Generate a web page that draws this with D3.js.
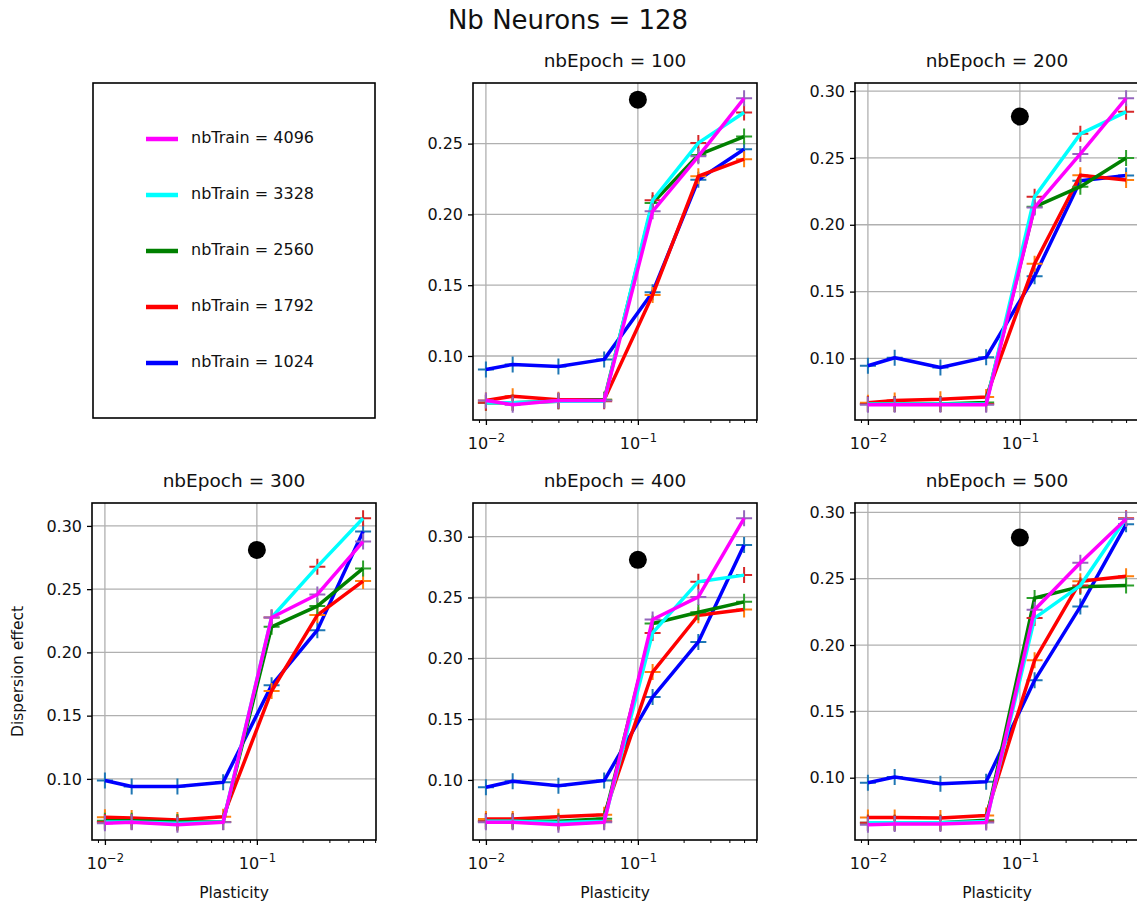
<!DOCTYPE html>
<html>
<head>
<meta charset="utf-8">
<script src="https://cdn.jsdelivr.net/npm/d3@7"></script>
<style>
  html, body { margin: 0; padding: 0; background: #fff; }
  svg { display: block; font-family: "DejaVu Sans", sans-serif; }
</style>
</head>
<body>
<svg id="chart" width="1137" height="903"></svg>
<script>
// ---- data -------------------------------------------------------------
const plasticity = [0.01, 0.015, 0.03, 0.06, 0.125, 0.25, 0.5];
const nbTrain = [1024, 1792, 2560, 3328, 4096];
const epochs = [100, 200, 300, 400, 500];

// dispersion effect, one row per nbTrain value (1024, 1792, 2560, 3328, 4096)
const dispersion100 = [
  [0.0905, 0.094, 0.0925, 0.0976, 0.145, 0.2245, 0.246],
  [0.0685, 0.0716, 0.069, 0.069, 0.143, 0.227, 0.239],
  [0.067, 0.067, 0.068, 0.069, 0.208, 0.242, 0.255],
  [0.067, 0.067, 0.068, 0.068, 0.210, 0.2505, 0.272],
  [0.0685, 0.0656, 0.0685, 0.0685, 0.2022, 0.241, 0.282]
];
const dispersion200 = [
  [0.0945, 0.1005, 0.0932, 0.1008, 0.1615, 0.233, 0.2368],
  [0.0669, 0.0686, 0.0694, 0.0711, 0.1708, 0.237, 0.2335],
  [0.066, 0.066, 0.066, 0.067, 0.2134, 0.2285, 0.250],
  [0.066, 0.066, 0.066, 0.066, 0.221, 0.268, 0.2845],
  [0.0654, 0.0654, 0.0654, 0.0654, 0.213, 0.253, 0.2946]
];
const dispersion300 = [
  [0.0987, 0.094, 0.094, 0.0974, 0.174, 0.2176, 0.2955],
  [0.0696, 0.069, 0.0675, 0.0701, 0.1695, 0.2295, 0.2564],
  [0.067, 0.067, 0.066, 0.066, 0.2202, 0.2366, 0.2664],
  [0.066, 0.066, 0.065, 0.066, 0.2276, 0.2678, 0.306],
  [0.0649, 0.0657, 0.0638, 0.0657, 0.2276, 0.2458, 0.2876]
];
const dispersion400 = [
  [0.094, 0.0989, 0.0953, 0.0995, 0.1681, 0.2135, 0.2931],
  [0.0679, 0.0679, 0.0698, 0.0714, 0.1887, 0.2354, 0.2401],
  [0.066, 0.066, 0.066, 0.068, 0.2286, 0.2379, 0.2464],
  [0.066, 0.066, 0.065, 0.066, 0.2209, 0.263, 0.2684],
  [0.0651, 0.0651, 0.0632, 0.0651, 0.2319, 0.2505, 0.3151]
];
const dispersion500 = [
  [0.0962, 0.1005, 0.0954, 0.097, 0.1734, 0.229, 0.291],
  [0.0701, 0.0701, 0.0696, 0.0716, 0.1886, 0.248, 0.2519],
  [0.066, 0.066, 0.066, 0.068, 0.2354, 0.244, 0.2448],
  [0.066, 0.066, 0.066, 0.067, 0.2203, 0.2448, 0.2955],
  [0.0646, 0.0651, 0.0651, 0.0663, 0.2266, 0.262, 0.295]
];
const dispersionByEpoch = [dispersion100, dispersion200, dispersion300, dispersion400, dispersion500];

// reference point drawn in every panel
const refPoint = { plasticity: 0.1, dispersion: 0.281 };

const yTickStep = 0.05;
const xMajorTicks = [0.01, 0.1];
const xMinorTicks = [0.009, 0.02, 0.03, 0.04, 0.05, 0.06, 0.07, 0.08, 0.09, 0.2, 0.3, 0.4, 0.5, 0.6];

// ---- styles -----------------------------------------------------------
const lineColors = ["#0000ff", "#ff0000", "#008000", "#00ffff", "#ff00ff"];
const markerColors = ["#1f77b4", "#ff7f0e", "#2ca02c", "#d62728", "#9467bd"];

// ---- layout -----------------------------------------------------------
const colLefts = [92, 473, 855];
const rowTops = [83, 503];
const axW = 284, axH = 337;

const svg = d3.select("#chart");

svg.append("text")
  .attr("x", 568).attr("y", 29)
  .attr("text-anchor", "middle")
  .attr("font-size", 26)
  .attr("fill", "#111")
  .text("Nb Neurons = 128");

// legend panel (top-left slot)
const legend = svg.append("g").attr("transform", `translate(${colLefts[0]},${rowTops[0]})`);
legend.append("rect")
  .attr("x", 1).attr("y", 0).attr("width", axW - 2).attr("height", axH - 2)
  .attr("fill", "none").attr("stroke", "#000").attr("stroke-width", 1.6);
const legendOrder = d3.range(nbTrain.length).reverse();
legendOrder.forEach((si, k) => {
  const ly = 56 + k * 56;
  legend.append("line")
    .attr("x1", 54).attr("x2", 86).attr("y1", ly).attr("y2", ly)
    .attr("stroke", lineColors[si]).attr("stroke-width", 4.5);
  legend.append("text")
    .attr("x", 99).attr("y", ly + 3.5)
    .attr("font-size", 16).attr("fill", "#111")
    .text(`nbTrain = ${nbTrain[si]}`);
});

// padded domains, 5% on each side as the plotting defaults do
const logLo = Math.log10(d3.min(plasticity)), logHi = Math.log10(d3.max(plasticity));
const logPad = (logHi - logLo) * 0.05;
const xDomain = [Math.pow(10, logLo - logPad), Math.pow(10, logHi + logPad)];

const lineGen = (x, y) => d3.line()
  .x((d, i) => x(plasticity[i]))
  .y(d => y(d));

const plusSize = 8;

epochs.forEach((ep, pi) => {
  const slot = pi + 1;
  const row = Math.floor(slot / 3), col = slot % 3;
  const left = colLefts[col], top = rowTops[row];
  const series = dispersionByEpoch[pi];

  const allVals = series.flat().concat([refPoint.dispersion]);
  const vMin = d3.min(allVals), vMax = d3.max(allVals);
  const vPad = (vMax - vMin) * 0.05;

  const x = d3.scaleLog().domain(xDomain).range([0, axW]);
  const y = d3.scaleLinear().domain([vMin - vPad, vMax + vPad]).range([axH, 0]);

  const yTicks = d3.range(Math.ceil((vMin - vPad) / yTickStep - 1e-9), Math.floor((vMax + vPad) / yTickStep + 1e-9) + 1)
    .map(k => +(k * yTickStep).toFixed(2));

  const g = svg.append("g").attr("transform", `translate(${left},${top})`);
  const clipId = `clip-${ep}`;
  g.append("clipPath").attr("id", clipId)
    .append("rect").attr("width", axW).attr("height", axH);

  // grid
  const grid = g.append("g").attr("stroke", "#b0b0b0").attr("stroke-width", 1.3);
  yTicks.forEach(t => grid.append("line")
    .attr("x1", 0).attr("x2", axW).attr("y1", y(t)).attr("y2", y(t)));
  xMajorTicks.forEach(t => grid.append("line")
    .attr("x1", x(t)).attr("x2", x(t)).attr("y1", 0).attr("y2", axH));

  // data
  const plot = g.append("g").attr("clip-path", `url(#${clipId})`);
  series.forEach((vals, si) => {
    plot.append("g").selectAll("path")
      .data(vals)
      .join("path")
      .attr("d", (d, i) => {
        const px = x(plasticity[i]), py = y(d);
        return `M${px - plusSize},${py}H${px + plusSize}M${px},${py - plusSize}V${py + plusSize}`;
      })
      .attr("stroke", markerColors[si]).attr("stroke-width", 2).attr("fill", "none");
    plot.append("path")
      .datum(vals)
      .attr("d", lineGen(x, y))
      .attr("fill", "none")
      .attr("stroke", lineColors[si])
      .attr("stroke-width", 3.5)
      .attr("stroke-linejoin", "round");
  });
  plot.append("circle")
    .attr("cx", x(refPoint.plasticity)).attr("cy", y(refPoint.dispersion))
    .attr("r", 9).attr("fill", "#000");

  // axes
  const yAxis = g.append("g")
    .call(d3.axisLeft(y).tickValues(yTicks).tickFormat(d3.format(".2f")).tickSize(5).tickPadding(5));
  yAxis.select(".domain").remove();
  yAxis.selectAll("line").attr("stroke", "#000").attr("stroke-width", 1.3);
  yAxis.selectAll("text").attr("font-size", 16).attr("fill", "#111").attr("font-family", "DejaVu Sans");

  const xMinor = g.append("g").attr("transform", `translate(0,${axH})`)
    .call(d3.axisBottom(x).tickValues(xMinorTicks.filter(t => t >= xDomain[0] && t <= xDomain[1])).tickFormat("").tickSize(3));
  xMinor.select(".domain").remove();
  xMinor.selectAll("line").attr("stroke", "#000").attr("stroke-width", 1);

  const xAxis = g.append("g").attr("transform", `translate(0,${axH})`)
    .call(d3.axisBottom(x).tickValues(xMajorTicks).tickFormat("").tickSize(5));
  xAxis.select(".domain").remove();
  xAxis.selectAll("line").attr("stroke", "#000").attr("stroke-width", 1.3);
  xAxis.selectAll(".tick").each(function (d) {
    const t = d3.select(this).append("text")
      .attr("y", 29).attr("text-anchor", "middle")
      .attr("fill", "#111").attr("font-family", "DejaVu Sans");
    t.append("tspan").attr("font-size", 16).text("10");
    t.append("tspan").attr("font-size", 11.5).attr("dy", -7)
      .text("\u2212" + Math.round(-Math.log10(d)));
  });

  // frame
  g.append("rect").attr("width", axW).attr("height", axH)
    .attr("fill", "none").attr("stroke", "#000").attr("stroke-width", 1.6);

  // titles and labels
  g.append("text")
    .attr("x", axW / 2).attr("y", -16)
    .attr("text-anchor", "middle").attr("font-size", 18.5).attr("fill", "#111")
    .text(`nbEpoch = ${ep}`);

  if (row === 1) {
    g.append("text")
      .attr("x", axW / 2).attr("y", axH + 58)
      .attr("text-anchor", "middle").attr("font-size", 15.5).attr("fill", "#111")
      .text("Plasticity");
  }
  if (col === 0) {
    g.append("text")
      .attr("transform", `translate(${-69},${axH / 2}) rotate(-90)`)
      .attr("text-anchor", "middle").attr("font-size", 15.5).attr("fill", "#111")
      .text("Dispersion effect");
  }
});
</script>
</body>
</html>
